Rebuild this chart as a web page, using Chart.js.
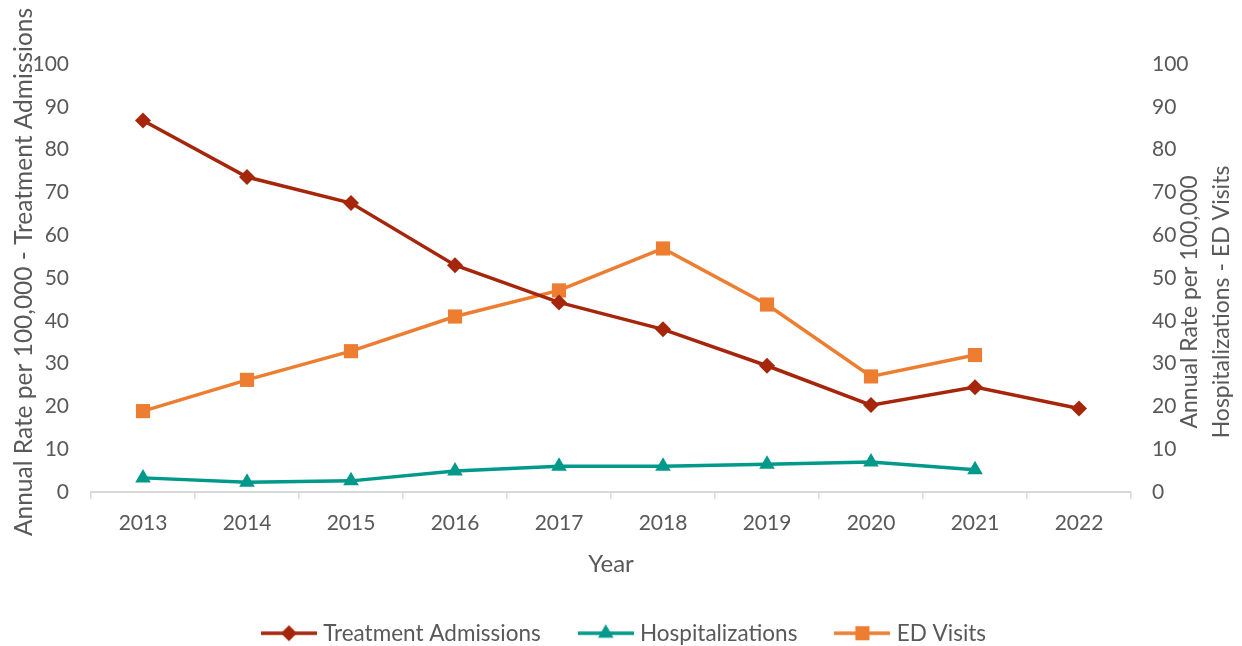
<!DOCTYPE html>
<html>
<head>
<meta charset="utf-8">
<title>Annual rates per 100,000</title>
<script src="https://cdn.jsdelivr.net/npm/chart.js@4.4.1/dist/chart.umd.min.js"></script>
<style>
  html, body { margin: 0; padding: 0; background: #ffffff; }
  #wrap { width: 1242px; height: 646px; position: relative; }
</style>
</head>
<body>
<div id="wrap"><canvas id="rateChart"></canvas></div>
<script>
// yearly rates per 100,000
const years = ['2013', '2014', '2015', '2016', '2017', '2018', '2019', '2020', '2021', '2022'];
const treatmentAdmissions = [86.8, 73.6, 67.5, 53.0, 44.3, 38.0, 29.5, 20.3, 24.5, 19.5];
const hospitalizations = [3.3, 2.3, 2.6, 4.9, 6.0, 6.0, 6.5, 7.0, 5.2, null];
const edVisits = [18.9, 26.2, 32.9, 41.0, 47.1, 56.9, 43.8, 27.0, 32.0, null];
const yTicks = [0, 10, 20, 30, 40, 50, 60, 70, 80, 90, 100];

const seriesNames = ['Treatment Admissions', 'Hospitalizations', 'ED Visits'];
const seriesColors = ['#A6260B', '#00998A', '#ED7D31'];
const seriesMarkers = ['rectRot', 'triangle', 'rect'];
const markerRadius = [8, 9, 10];

const FONT = 'Lato, "Open Sans", sans-serif';
const GREY = '#595959';

// legend swatch: a short line with the series marker in the middle
function legendIcon(i) {
  const c = document.createElement('canvas');
  c.width = 56;
  c.height = 22;
  const g = c.getContext('2d');
  g.strokeStyle = seriesColors[i];
  g.lineWidth = 3.5;
  g.beginPath();
  g.moveTo(0, 11);
  g.lineTo(56, 11);
  g.stroke();
  g.fillStyle = seriesColors[i];
  g.strokeStyle = seriesColors[i];
  Chart.helpers.drawPoint(g, {
    pointStyle: seriesMarkers[i], radius: markerRadius[i], rotation: 0, borderWidth: 0
  }, 28, 11);
  return c;
}
const legendIcons = [0, 1, 2].map(legendIcon);

function makeSet(i, data, axis) {
  return {
    label: seriesNames[i],
    data: data,
    yAxisID: axis,
    borderColor: seriesColors[i],
    backgroundColor: seriesColors[i],
    borderWidth: 3.5,
    pointStyle: seriesMarkers[i],
    pointRadius: markerRadius[i],
    pointHoverRadius: markerRadius[i],
    pointBorderWidth: 0,
    pointBackgroundColor: seriesColors[i],
    tension: 0,
    spanGaps: false,
    clip: false
  };
}

// both y axis titles read bottom-to-top; the right one is split over two lines
const axisTitles = {
  id: 'axisTitles',
  afterDraw(chart) {
    const { ctx, chartArea } = chart;
    const mid = (chartArea.top + chartArea.bottom) / 2;
    const put = (text, x, y, size) => {
      ctx.save();
      ctx.font = size + 'px ' + FONT;
      ctx.translate(x, y);
      ctx.rotate(-Math.PI / 2);
      ctx.fillText(text, 0, 0);
      ctx.restore();
    };
    ctx.save();
    ctx.fillStyle = GREY;
    ctx.textAlign = 'center';
    ctx.textBaseline = 'middle';
    put('Annual Rate per 100,000 - Treatment Admissions', chartArea.left - 67, mid - 6, 24.5);
    put('Annual Rate per 100,000', chartArea.right + 59, mid + 24, 23);
    put('Hospitalizations - ED Visits', chartArea.right + 91, mid + 24, 23);
    ctx.restore();
  }
};

new Chart(document.getElementById('rateChart'), {
  type: 'line',
  data: {
    labels: years,
    datasets: [
      makeSet(0, treatmentAdmissions, 'y'),
      makeSet(1, hospitalizations, 'y1'),
      makeSet(2, edVisits, 'y1')
    ]
  },
  options: {
    responsive: true,
    maintainAspectRatio: false,
    animation: false,
    devicePixelRatio: 1,
    layout: { padding: { top: 64, left: 10, right: 0, bottom: 0 } },
    plugins: {
      tooltip: { enabled: false },
      legend: {
        position: 'bottom',
        maxHeight: 66,
        labels: {
          usePointStyle: true,
          pointStyleWidth: 46,
          padding: 42,
          color: GREY,
          font: { family: FONT, size: 22.5 },
          generateLabels(chart) {
            const items = Chart.defaults.plugins.legend.labels.generateLabels(chart);
            items.forEach((it, i) => { it.pointStyle = legendIcons[i]; });
            return items;
          }
        }
      }
    },
    scales: {
      x: {
        offset: true,
        grid: {
          offset: true,
          drawOnChartArea: false,
          drawTicks: true,
          tickLength: 7,
          color: '#D9D9D9',
          lineWidth: 1.5
        },
        border: { color: '#D9D9D9', width: 2 },
        ticks: { color: GREY, font: { family: FONT, size: 21 }, padding: 12 },
        title: {
          display: true,
          text: 'Year',
          color: GREY,
          font: { family: FONT, size: 24 },
          padding: { top: 2, bottom: 1 }
        }
      },
      y: {
        position: 'left',
        min: 0,
        max: 100,
        afterBuildTicks(scale) { scale.ticks = yTicks.map(v => ({ value: v })); },
        afterFit(scale) { scale.width = 81; },
        grid: { display: false, drawTicks: false },
        border: { display: false },
        ticks: { color: GREY, font: { family: FONT, size: 21 }, padding: 22 }
      },
      y1: {
        position: 'right',
        min: 0,
        max: 100,
        afterBuildTicks(scale) { scale.ticks = yTicks.map(v => ({ value: v })); },
        afterFit(scale) { scale.width = 111; },
        grid: { display: false, drawTicks: false },
        border: { display: false },
        ticks: { color: GREY, font: { family: FONT, size: 21 }, padding: 21 }
      }
    }
  },
  plugins: [axisTitles]
});
</script>
</body>
</html>
